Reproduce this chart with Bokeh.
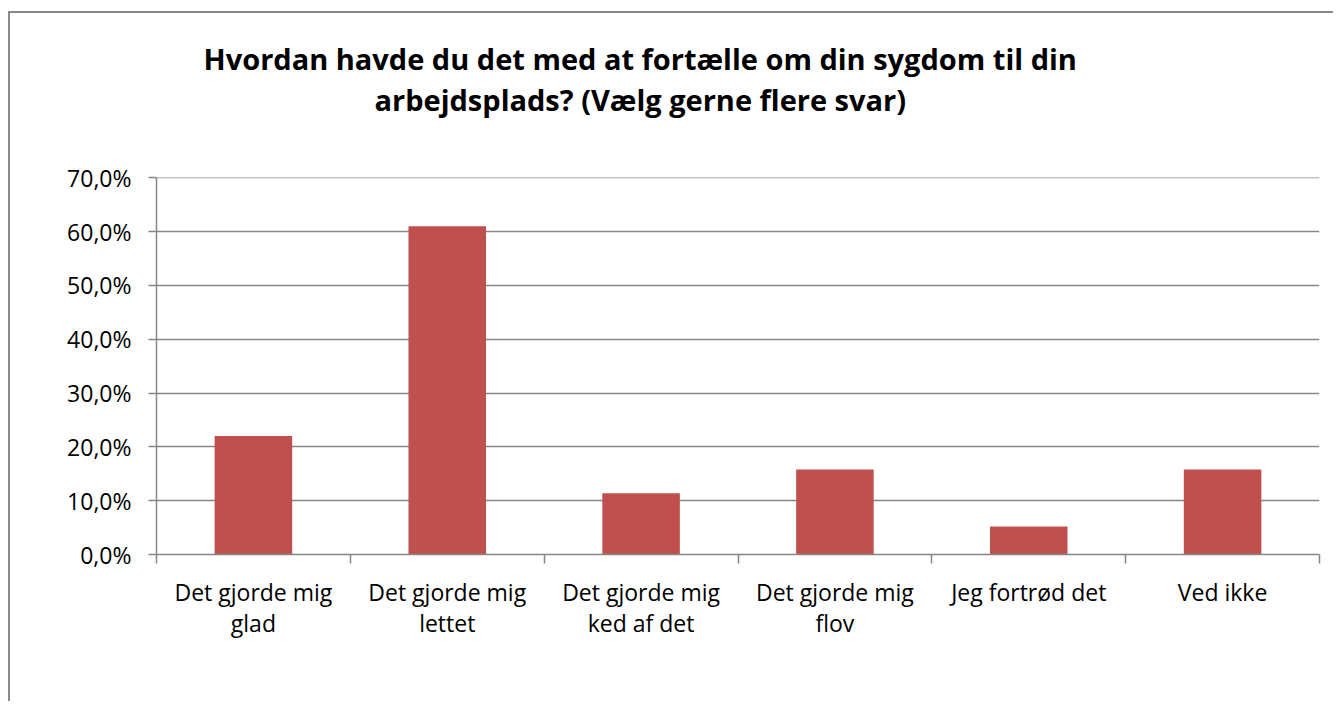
from bokeh.plotting import figure
from bokeh.models import FixedTicker, Title, ColumnDataSource
from bokeh.embed import file_html
from bokeh.resources import INLINE

categories = ["Det gjorde mig\nglad", "Det gjorde mig\nlettet", "Det gjorde mig\nked af det",
              "Det gjorde mig\nflov", "Jeg fortrød det", "Ved ikke"]
shares = [0.220, 0.610, 0.114, 0.158, 0.052, 0.158]
y_ticks = [0.0, 0.1, 0.2, 0.3, 0.4, 0.5, 0.6, 0.7]
y_tick_labels = ["0,0%", "10,0%", "20,0%", "30,0%", "40,0%", "50,0%", "60,0%", "70,0%"]
title_lines = ["Hvordan havde du det med at fortælle om din sygdom til din",
               "arbejdsplads? (Vælg gerne flere svar)"]

FONT = "Open Sans"
GRID = "#868686"

xs = [i + 0.5 for i in range(len(categories))]
src = ColumnDataSource(dict(x=xs, top=shares))

p = figure(width=1325, height=690, output_backend="svg", toolbar_location=None,
           x_range=(0, len(categories)), y_range=(0, 0.7005),
           min_border_left=146, min_border_top=164, min_border_right=16, min_border_bottom=149,
           outline_line_color=None, background_fill_color="white", border_fill_color="white",
           styles={"border-left": "2px solid #8a8a8a", "border-top": "2px solid #8a8a8a",
                   "margin-top": "11px", "margin-left": "8px"})

p.vbar(x="x", top="top", width=0.4, source=src, fill_color="#C0504D", line_color=None)

# y axis
p.yaxis.ticker = FixedTicker(ticks=y_ticks)
p.yaxis.major_label_overrides = {t: l for t, l in zip(y_ticks, y_tick_labels)}
p.yaxis.major_label_text_font = FONT
p.yaxis.major_label_text_font_size = "23px"
p.yaxis.major_label_text_color = "black"
p.yaxis.axis_line_color = GRID
p.yaxis.axis_line_width = 1.5
p.yaxis.major_tick_line_color = GRID
p.yaxis.major_tick_line_width = 1.5
p.yaxis.major_tick_out = 8
p.yaxis.major_tick_in = 0
p.yaxis.minor_tick_line_color = None
p.yaxis.major_label_standoff = 17

# x axis
p.xaxis.ticker = FixedTicker(ticks=xs, minor_ticks=list(range(len(categories) + 1)))
p.xaxis.major_label_overrides = {x: c for x, c in zip(xs, categories)}
p.xaxis.major_label_text_font = FONT
p.xaxis.major_label_text_font_size = "23px"
p.xaxis.major_label_text_color = "black"
p.xaxis.major_label_text_line_height = 0.97
p.xaxis.axis_line_color = GRID
p.xaxis.axis_line_width = 1.5
p.xaxis.major_tick_line_color = None
p.xaxis.minor_tick_line_color = GRID
p.xaxis.minor_tick_line_width = 1.5
p.xaxis.minor_tick_out = 9
p.xaxis.minor_tick_in = 0
p.xaxis.major_label_standoff = 12

p.xgrid.grid_line_color = None
p.ygrid.grid_line_color = GRID
p.ygrid.grid_line_width = 1.5
p.ygrid.ticker = FixedTicker(ticks=y_ticks)

# spacer between frame and title, then the two title lines (stacked outward)
spacer = Title(text=" ", text_font_size="1px", standoff=56)
t2 = Title(text=title_lines[1], align="left", offset=218, standoff=0,
           text_font=FONT, text_font_style="bold", text_font_size="29px", text_color="black")
t1 = Title(text=title_lines[0], align="left", offset=47, standoff=0,
           text_font=FONT, text_font_style="bold", text_font_size="29px", text_color="black")
p.add_layout(spacer, "above")
p.add_layout(t2, "above")
p.add_layout(t1, "above")

open("out.html", "w").write(file_html(p, INLINE))
